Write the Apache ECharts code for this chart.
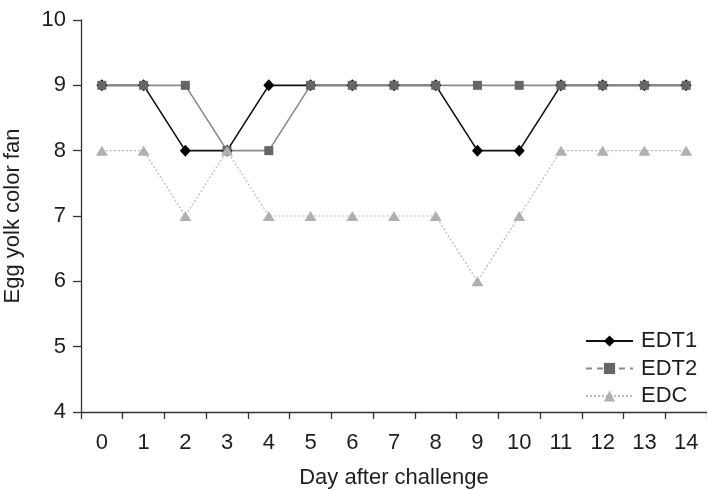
<!DOCTYPE html>
<html><head><meta charset="utf-8">
<script src="https://cdn.jsdelivr.net/npm/echarts@6/dist/echarts.min.js"></script>
<style>html,body{margin:0;padding:0;background:#fff}#c{width:707px;height:490px}</style>
</head><body><div id="c"></div>
<script>
const days = ['0','1','2','3','4','5','6','7','8','9','10','11','12','13','14'];
const edt1 = [9,9,8,8,9,9,9,9,9,8,8,9,9,9,9];
const edt2 = [9,9,9,8,8,9,9,9,9,9,9,9,9,9,9];
const edc  = [8,8,7,8,7,7,7,7,7,6,7,8,8,8,8];
const yTicks = {min:4, max:10, interval:1};

const font = 'Liberation Sans, Arial, sans-serif';
const txt = '#1e1e1e';
const chart = echarts.init(document.getElementById('c'), null, {renderer:'canvas'});
chart.setOption({
  animation:false,
  backgroundColor:'#fff',
  grid:{left:81, right:0, top:20, bottom:78, containLabel:false, outerBoundsMode:'none'},
  legend:{
    orient:'vertical', left:580, top:325, itemWidth:47, itemHeight:14, itemGap:5.5,
    textStyle:{fontSize:22, color:txt, fontFamily:font, padding:[0,0,0,3]},
    data:[
      {name:'EDT1'},
      {name:'EDT2', lineStyle:{type:[6,5]}},
      {name:'EDC'}
    ]
  },
  xAxis:{
    type:'category', data:days, boundaryGap:true,
    name:'Day after challenge', nameLocation:'middle', nameGap:55,
    nameTextStyle:{fontSize:22, color:txt, fontFamily:font},
    axisLine:{lineStyle:{color:'#333', width:1.3}},
    axisTick:{show:true, length:7, alignWithLabel:false, lineStyle:{color:'#333', width:1.3}},
    axisLabel:{fontSize:22, color:txt, fontFamily:font, margin:20}
  },
  yAxis:{
    type:'value', min:yTicks.min, max:yTicks.max, interval:yTicks.interval,
    name:'Egg yolk color fan', nameLocation:'middle', nameGap:57,
    nameTextStyle:{fontSize:22, color:txt, fontFamily:font},
    splitLine:{show:false},
    axisLine:{show:true, lineStyle:{color:'#333', width:1.3}},
    axisTick:{show:true, length:8, lineStyle:{color:'#333', width:1.3}},
    axisLabel:{fontSize:22, color:txt, fontFamily:font, margin:15}
  },
  series:[
    {name:'EDT1', type:'line', data:edt1, symbol:'diamond', symbolSize:[11,12],
     itemStyle:{color:'#000'}, lineStyle:{color:'#111', width:1.6}},
    {name:'EDT2', type:'line', data:edt2, symbol:'rect', symbolSize:9,
     itemStyle:{color:'#666'}, lineStyle:{color:'#8a8a8a', width:1.6}},
    {name:'EDC', type:'line', data:edc, symbol:'triangle', symbolSize:[12,10],
     itemStyle:{color:'#b0b0b0'}, lineStyle:{color:'#b8b8b8', width:1.2, type:[2,2]}}
  ]
});
</script></body></html>
